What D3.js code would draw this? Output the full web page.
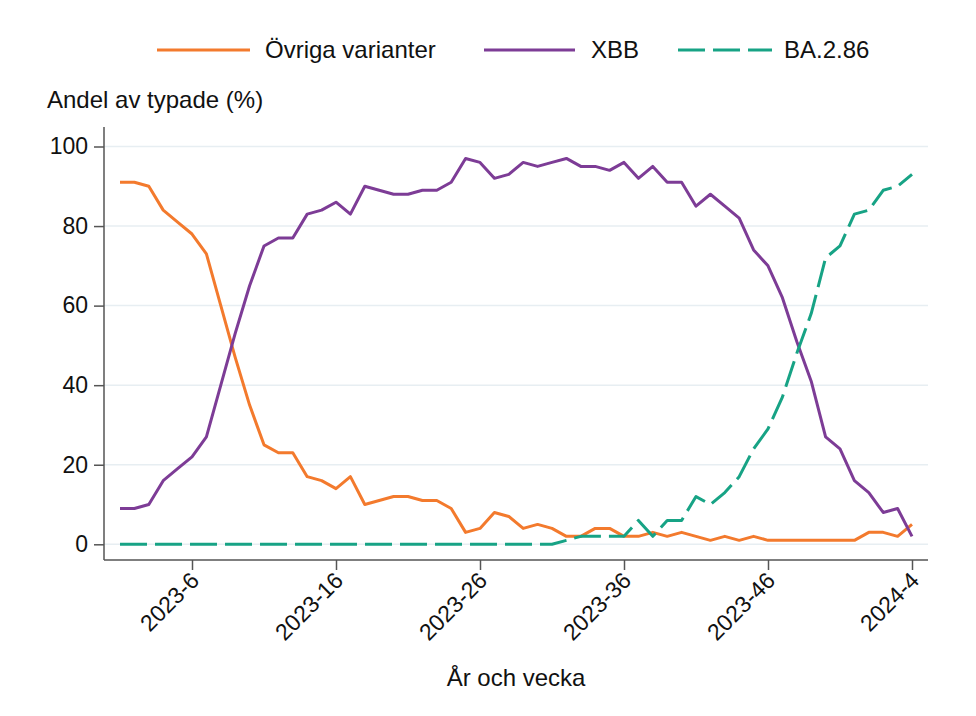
<!DOCTYPE html>
<html>
<head>
<meta charset="utf-8">
<script src="https://cdn.jsdelivr.net/npm/d3@7"></script>
<style>
  body { margin: 0; background: #fff; }
  text { font-family: "Liberation Sans", Arial, sans-serif; fill: #111; }
</style>
</head>
<body>
<div id="chart"></div>
<script>
// Weeks (år-vecka)
var weeks = ["2023-1","2023-2","2023-3","2023-4","2023-5","2023-6","2023-7","2023-8","2023-9","2023-10",
  "2023-11","2023-12","2023-13","2023-14","2023-15","2023-16","2023-17","2023-18","2023-19","2023-20",
  "2023-21","2023-22","2023-23","2023-24","2023-25","2023-26","2023-27","2023-28","2023-29","2023-30",
  "2023-31","2023-32","2023-33","2023-34","2023-35","2023-36","2023-37","2023-38","2023-39","2023-40",
  "2023-41","2023-42","2023-43","2023-44","2023-45","2023-46","2023-47","2023-48","2023-49","2023-50",
  "2023-51","2023-52","2024-1","2024-2","2024-3","2024-4"];

// Andel av typade (%) per variant
var ovriga = [91,91,90,84,81,78,73,60,47,35,25,23,23,17,16,14,17,10,11,12,
  12,11,11,9,3,4,8,7,4,5,4,2,2,4,4,2,2,3,2,3,
  2,1,2,1,2,1,1,1,1,1,1,1,3,3,2,5];
var xbb = [9,9,10,16,19,22,27,40,53,65,75,77,77,83,84,86,83,90,89,88,
  88,89,89,91,97,96,92,93,96,95,96,97,95,95,94,96,92,95,91,91,
  85,88,85,82,74,70,62,51,41,27,24,16,13,8,9,2];
var ba286 = [0,0,0,0,0,0,0,0,0,0,0,0,0,0,0,0,0,0,0,0,
  0,0,0,0,0,0,0,0,0,0,0,1,2,2,2,2,6,2,6,6,
  12,10,13,17,24,29,37,48,58,72,75,83,84,89,90,93];

var tickLabels = ["2023-6","2023-16","2023-26","2023-36","2023-46","2024-4"];
var yTicks = [0, 20, 40, 60, 80, 100];

var series = [
  { name: "Övriga varianter", values: ovriga, color: "#f37a2d", dash: null },
  { name: "XBB", values: xbb, color: "#7d3c96", dash: null },
  { name: "BA.2.86", values: ba286, color: "#17a385", dash: "27,8" }
];

var width = 976, height = 716;
var plot = { left: 104, right: 928, top: 127, bottom: 560 };
var fontSize = "24px";

var svg = d3.select("#chart")
  .append("svg")
  .attr("width", width)
  .attr("height", height);

// Scales
var x = d3.scalePoint()
  .domain(weeks)
  .range([120, 912]);

var y = d3.scaleLinear()
  .domain([0, 100])
  .range([544.3, 146.5]);

// Gridlines
svg.append("g")
  .selectAll("line")
  .data(yTicks)
  .enter()
  .append("line")
  .attr("x1", plot.left)
  .attr("x2", plot.right)
  .attr("y1", function(d) { return y(d); })
  .attr("y2", function(d) { return y(d); })
  .attr("stroke", "#e7eef2")
  .attr("stroke-width", 1.5);

// Y axis
var yAxis = svg.append("g")
  .attr("transform", "translate(" + plot.left + ",0)")
  .call(d3.axisLeft(y).tickValues(yTicks).tickSize(10).tickPadding(6));
yAxis.select(".domain").remove();
yAxis.append("line")
  .attr("y1", plot.top).attr("y2", plot.bottom)
  .attr("stroke", "#555").attr("stroke-width", 1.5);
yAxis.selectAll(".tick line").attr("stroke", "#555").attr("stroke-width", 1.5);
yAxis.selectAll(".tick text")
  .style("font-size", "23px")
  .style("font-family", "Liberation Sans, Arial, sans-serif")
  .attr("fill", "#111");

// X axis
var xAxis = svg.append("g")
  .attr("transform", "translate(0," + plot.bottom + ")")
  .call(d3.axisBottom(x).tickValues(tickLabels).tickSize(10));
xAxis.select(".domain").remove();
xAxis.append("line")
  .attr("x1", plot.left).attr("x2", plot.right)
  .attr("stroke", "#555").attr("stroke-width", 1.5);
xAxis.selectAll(".tick line").attr("stroke", "#555").attr("stroke-width", 1.5);
xAxis.selectAll(".tick text")
  .style("font-size", "23px")
  .style("font-family", "Liberation Sans, Arial, sans-serif")
  .attr("fill", "#111")
  .attr("text-anchor", "end")
  .attr("y", 0)
  .attr("dy", 0)
  .attr("transform", "translate(8,22) rotate(-45)");

// Lines
var line = d3.line()
  .x(function(d, i) { return x(weeks[i]); })
  .y(function(d) { return y(d); });

svg.append("g")
  .selectAll("path")
  .data(series)
  .enter()
  .append("path")
  .attr("d", function(s) { return line(s.values); })
  .attr("fill", "none")
  .attr("stroke", function(s) { return s.color; })
  .attr("stroke-width", 3)
  .attr("stroke-linejoin", "round")
  .attr("stroke-dasharray", function(s) { return s.dash; });

// Legend
var legendPos = [
  { x1: 157, x2: 250, tx: 265 },
  { x1: 484, x2: 575, tx: 591 },
  { x1: 678, x2: 772, tx: 784 }
];
var legend = svg.append("g");
series.forEach(function(s, i) {
  var p = legendPos[i];
  legend.append("line")
    .attr("x1", p.x1).attr("x2", p.x2)
    .attr("y1", 50).attr("y2", 50)
    .attr("stroke", s.color)
    .attr("stroke-width", 3)
    .attr("stroke-dasharray", s.dash);
  legend.append("text")
    .attr("x", p.tx).attr("y", 50)
    .attr("dy", "0.35em")
    .style("font-size", fontSize)
    .text(s.name);
});

// Titles
svg.append("text")
  .attr("x", 47).attr("y", 108)
  .style("font-size", fontSize)
  .text("Andel av typade (%)");

svg.append("text")
  .attr("x", (plot.left + plot.right) / 2).attr("y", 686)
  .attr("text-anchor", "middle")
  .style("font-size", fontSize)
  .text("År och vecka");
</script>
</body>
</html>
